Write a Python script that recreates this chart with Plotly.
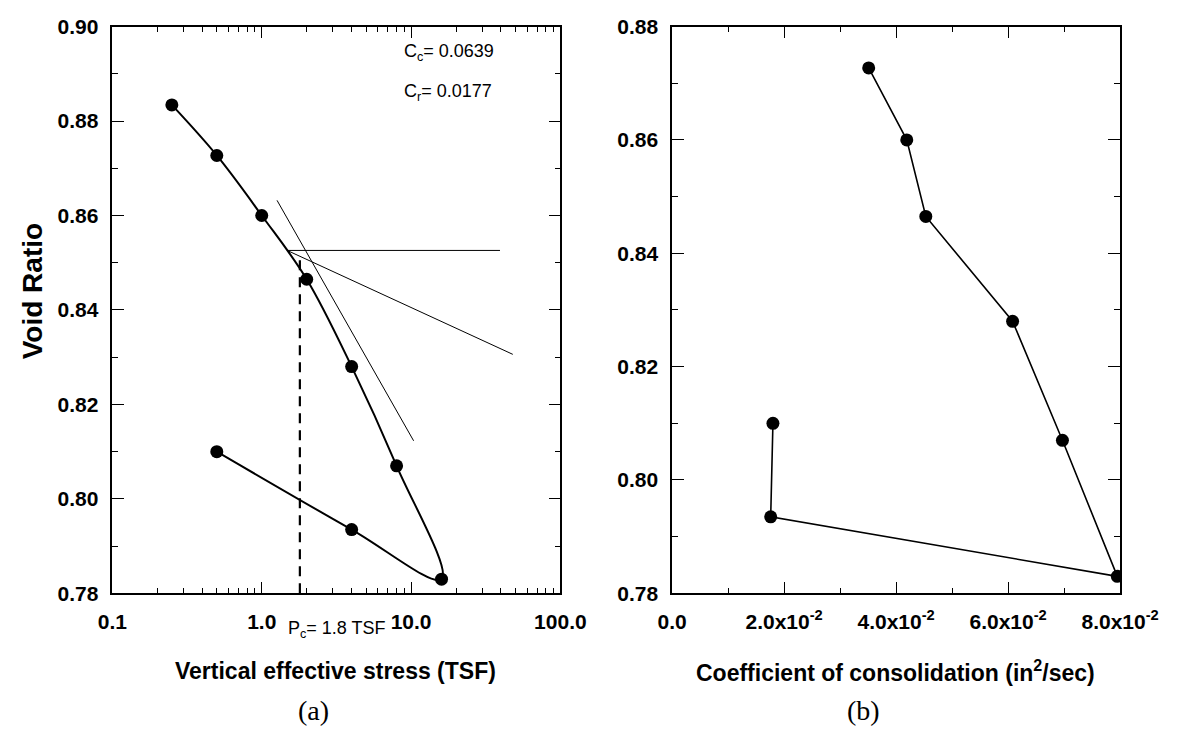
import plotly.graph_objects as go

# Consolidation test: void ratio vs. vertical effective stress (loading then unloading)
stress_tsf = [0.25, 0.5, 1.0, 2.0, 4.0, 8.0, 16.0, 4.0, 0.5]
void_ratio = [0.8834, 0.8727, 0.8600, 0.8465, 0.8280, 0.8070, 0.7830, 0.7935, 0.8100]

# Coefficient of consolidation for each load increment
cv_in2_per_sec = [0.0351, 0.0419, 0.0453, 0.0608, 0.0697, 0.0795, 0.0176, 0.0180]
cv_void_ratio = [0.8727, 0.8600, 0.8465, 0.8280, 0.8070, 0.7830, 0.7935, 0.8100]

# Casagrande construction for the preconsolidation pressure
virgin_line_x = [1.266, 10.4]
virgin_line_y = [0.8632, 0.8123]
horizontal_x = [1.48, 39.4]
horizontal_y = [0.8526, 0.8526]
bisector_x = [1.48, 48.0]
bisector_y = [0.8526, 0.8306]
pc_tsf = 1.8
pc_line_y = [0.78, 0.8512]
cc_value = 0.0639
cr_value = 0.0177

# Axis ticks
stress_ticks = [0.1, 1.0, 10.0, 100.0]
stress_ticktext = ["0.1", "1.0", "10.0", "100.0"]
stress_minor = [m * d for d in (0.1, 1.0, 10.0) for m in range(2, 10)]
cv_ticks = [0.0, 0.02, 0.04, 0.06, 0.08]
cv_ticktext = ["0.0", "2.0x10<sup>-2</sup>", "4.0x10<sup>-2</sup>",
               "6.0x10<sup>-2</sup>", "8.0x10<sup>-2</sup>"]

W, H = 1204, 740
FONT = "Liberation Sans, Arial, sans-serif"
SERIF = "Liberation Serif, Times New Roman, serif"

fig = go.Figure()

# e - log p curve
fig.add_trace(go.Scatter(
    x=stress_tsf, y=void_ratio, mode="lines+markers",
    line=dict(color="black", width=2, shape="spline", smoothing=1.0),
    marker=dict(color="black", size=13),
    xaxis="x", yaxis="y", showlegend=False))

thin = dict(color="black", width=1)
for xs, ys in ((virgin_line_x, virgin_line_y),
               (horizontal_x, horizontal_y),
               (bisector_x, bisector_y)):
    fig.add_trace(go.Scatter(x=xs, y=ys, mode="lines", line=thin,
                             xaxis="x", yaxis="y", showlegend=False))

fig.add_trace(go.Scatter(
    x=[pc_tsf, pc_tsf], y=pc_line_y, mode="lines",
    line=dict(color="black", width=2.2, dash="10px,7px"),
    xaxis="x", yaxis="y", showlegend=False))

# cv vs void ratio
fig.add_trace(go.Scatter(
    x=cv_in2_per_sec, y=cv_void_ratio, mode="lines+markers",
    line=dict(color="black", width=1.6),
    marker=dict(color="black", size=13),
    xaxis="x2", yaxis="y2", showlegend=False))

tickfont = dict(family=FONT, size=21, color="black", weight="bold")
common = dict(showline=True, linecolor="black", linewidth=1.5, mirror="ticks",
              ticks="inside", ticklen=12, tickwidth=1.2, tickcolor="black",
              showgrid=False, zeroline=False, tickfont=tickfont)

left_dom = [102 / W, 571 / W]
right_dom = [688 / W, 1157 / W]
y_dom = [1 - 600 / H, 1 - 15 / H]

fig.update_layout(
    width=W, height=H, margin=dict(l=0, r=0, t=0, b=0),
    paper_bgcolor="white", plot_bgcolor="white",
    xaxis=dict(type="log", range=[-1, 2], domain=left_dom, anchor="y",
               tickvals=stress_ticks, ticktext=stress_ticktext,
               minor=dict(tickvals=stress_minor, ticks="inside", ticklen=6,
                          tickwidth=1, tickcolor="black", showgrid=False),
               ticklabelstandoff=9, **common),
    yaxis=dict(range=[0.78, 0.90], domain=y_dom, anchor="x",
               tickvals=[0.78, 0.80, 0.82, 0.84, 0.86, 0.88, 0.90], tickformat=".2f",
               minor=dict(dtick=0.01, ticks="inside", ticklen=6, tickwidth=1,
                          tickcolor="black", showgrid=False),
               ticklabelstandoff=8, **common),
    xaxis2=dict(range=[0, 0.08], domain=right_dom, anchor="y2",
                tickvals=cv_ticks, ticktext=cv_ticktext,
                minor=dict(dtick=0.01, ticks="inside", ticklen=6, tickwidth=1,
                           tickcolor="black", showgrid=False),
                ticklabelstandoff=9, **common),
    yaxis2=dict(range=[0.78, 0.88], domain=y_dom, anchor="x2",
                tickvals=[0.78, 0.80, 0.82, 0.84, 0.86, 0.88], tickformat=".2f",
                minor=dict(dtick=0.01, ticks="inside", ticklen=6, tickwidth=1,
                           tickcolor="black", showgrid=False),
                ticklabelstandoff=8, **common),
)

def label(text, px, py, size, family=FONT, bold=False, angle=0, xanchor="center"):
    fig.add_annotation(
        text=text, xref="paper", yref="paper", x=px / W, y=1 - py / H,
        xanchor=xanchor, yanchor="middle", showarrow=False, textangle=angle,
        font=dict(family=family, size=size, color="black",
                  weight="bold" if bold else "normal"))

label("Vertical effective stress (TSF)", 336, 680, 23, bold=True)
label("Coefficient of consolidation (in<sup>2</sup>/sec)", 922, 680, 23, bold=True)
label("Void Ratio", 18, 288, 28, bold=True, angle=-90)
label("(a)", 312, 721, 28, family=SERIF)
label("(b)", 888, 721, 28, family=SERIF)
label(f"C<sub>c</sub>= {cc_value:.4f}", 405, 42, 18, xanchor="left")
label(f"C<sub>r</sub>= {cr_value:.4f}", 405, 83, 18, xanchor="left")
label(f"P<sub>c</sub>= {pc_tsf:.1f} TSF", 337, 637, 18)

fig.write_html("out.html")
